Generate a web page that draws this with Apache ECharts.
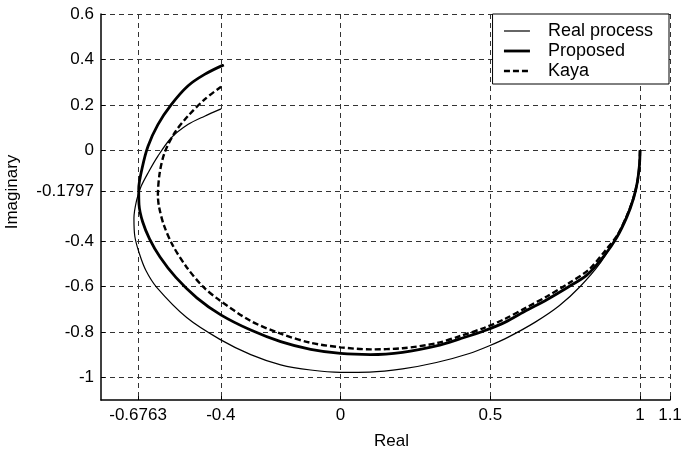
<!DOCTYPE html>
<html>
<head>
<meta charset="utf-8">
<script src="https://cdn.jsdelivr.net/npm/echarts@6/dist/echarts.min.js"></script>
<style>
  html, body { margin: 0; padding: 0; background: #fff; }
  #chart { width: 681px; height: 453px; }
</style>
</head>
<body>
<div id="chart"></div>
<script>
// tick labels
var xTicks = [-0.6763, -0.4, 0, 0.5, 1, 1.1];
var yTicks = [0.6, 0.4, 0.2, 0, -0.1797, -0.4, -0.6, -0.8, -1];

var seriesNames = ["Real process", "Proposed", "Kaya"];

// points [real, imaginary]
var realProcess = [
  [1, 0], [0.998, -0.066], [0.99, -0.14], [0.976, -0.213], [0.953, -0.294],
  [0.917, -0.39], [0.868, -0.495], [0.8, -0.6], [0.73, -0.685],
  [0.65, -0.757], [0.56, -0.823], [0.497, -0.861], [0.43, -0.895],
  [0.32, -0.935], [0.207, -0.963], [0.097, -0.977], [0, -0.978],
  [-0.1, -0.968], [-0.2, -0.945], [-0.3, -0.9], [-0.403, -0.833],
  [-0.514, -0.737], [-0.614, -0.604], [-0.65, -0.53], [-0.672, -0.455],
  [-0.687, -0.38], [-0.69, -0.3], [-0.681, -0.22], [-0.666, -0.159],
  [-0.643, -0.1], [-0.61, -0.026], [-0.566, 0.054], [-0.51, 0.113],
  [-0.454, 0.15], [-0.399, 0.182]
];
var proposed = [
  [1, 0], [0.998, -0.066], [0.991, -0.14], [0.978, -0.213], [0.956, -0.294],
  [0.922, -0.385], [0.88, -0.465], [0.822, -0.55], [0.763, -0.6],
  [0.69, -0.657], [0.62, -0.706], [0.55, -0.757], [0.48, -0.795],
  [0.4, -0.83], [0.32, -0.862], [0.207, -0.89], [0.1, -0.9], [0, -0.895],
  [-0.1, -0.877], [-0.2, -0.843], [-0.3, -0.792], [-0.4, -0.725],
  [-0.48, -0.65], [-0.55, -0.56], [-0.603, -0.47], [-0.638, -0.39],
  [-0.661, -0.315], [-0.673, -0.24], [-0.674, -0.17], [-0.662, -0.075],
  [-0.643, 0.018], [-0.61, 0.113], [-0.566, 0.2], [-0.51, 0.283],
  [-0.454, 0.334], [-0.39, 0.376]
];
var kaya = [
  [1, 0], [0.998, -0.066], [0.991, -0.14], [0.978, -0.21], [0.957, -0.285],
  [0.924, -0.375], [0.885, -0.44], [0.83, -0.525], [0.763, -0.585],
  [0.69, -0.643], [0.62, -0.693], [0.55, -0.742], [0.48, -0.782],
  [0.4, -0.818], [0.32, -0.85], [0.207, -0.872], [0.1, -0.877], [0, -0.868],
  [-0.1, -0.848], [-0.2, -0.808], [-0.3, -0.752], [-0.403, -0.662],
  [-0.46, -0.6], [-0.514, -0.515], [-0.56, -0.42], [-0.59, -0.33],
  [-0.606, -0.25], [-0.61, -0.2], [-0.604, -0.1], [-0.588, -0.012],
  [-0.554, 0.077], [-0.51, 0.15], [-0.454, 0.224], [-0.399, 0.28]
];

var myChart = echarts.init(document.getElementById("chart"));
var font = "Liberation Sans, Arial, sans-serif";
var gridLine = { show: true, lineStyle: { color: "#333", width: 1, type: [5, 4] } };
var lineStyles = [
  { color: "#000", width: 1.2 },
  { color: "#000", width: 2.8 },
  { color: "#000", width: 2.4, type: [6, 3] }
];

var option = {
  backgroundColor: "#fff",
  animation: false,
  color: ["#000", "#000", "#000"],
  grid: { left: 101, right: 11, top: 14, bottom: 53, outerBoundsMode: "none" },
  legend: {
    orient: "vertical",
    right: 12,
    top: 14,
    padding: [8, 16, 4, 10],
    itemWidth: 26,
    itemHeight: 18,
    itemGap: 2,
    backgroundColor: "#fff",
    borderColor: "#000",
    borderWidth: 1,
    borderRadius: 0,
    itemStyle: { opacity: 0 },
    textStyle: { fontFamily: font, fontSize: 18, color: "#000", padding: [0, 0, 0, 13] },
    data: seriesNames.map(function (n, i) {
      return { name: n, lineStyle: lineStyles[i] };
    })
  },
  xAxis: {
    type: "value",
    min: -0.8,
    max: 1.1,
    name: "Real",
    nameLocation: "middle",
    nameGap: 33,
    nameTextStyle: { fontFamily: font, fontSize: 17, color: "#000", padding: [0, 0, 0, 12] },
    axisLine: { onZero: false, lineStyle: { color: "#000", width: 1.5 } },
    axisTick: { inside: true, length: 4, customValues: xTicks, lineStyle: { color: "#000" } },
    axisLabel: {
      customValues: xTicks,
      fontFamily: font, fontSize: 17, color: "#000", margin: 7,
      formatter: function (v) { return String(v); }
    },
    splitLine: gridLine
  },
  yAxis: {
    type: "value",
    min: -1.1,
    max: 0.6,
    name: "Imaginary",
    nameLocation: "middle",
    nameGap: 80,
    nameTextStyle: { fontFamily: font, fontSize: 17, color: "#000", padding: [0, 0, 0, 30] },
    axisLine: { onZero: false, lineStyle: { color: "#000", width: 1.5 } },
    axisTick: { inside: true, length: 4, customValues: yTicks, lineStyle: { color: "#000" } },
    axisLabel: {
      customValues: yTicks,
      fontFamily: font, fontSize: 17, color: "#000", margin: 7,
      formatter: function (v) { return String(v); }
    },
    splitLine: gridLine
  },
  series: [
    {
      name: seriesNames[0],
      type: "line",
      data: realProcess,
      smooth: 0.3,
      symbol: "none",
      itemStyle: { color: "#000" },
      lineStyle: lineStyles[0]
    },
    {
      name: seriesNames[1],
      type: "line",
      data: proposed,
      smooth: 0.3,
      symbol: "none",
      itemStyle: { color: "#000" },
      lineStyle: lineStyles[1]
    },
    {
      name: seriesNames[2],
      type: "line",
      data: kaya,
      smooth: 0.3,
      symbol: "none",
      itemStyle: { color: "#000" },
      lineStyle: lineStyles[2]
    }
  ]
};
myChart.setOption(option);
</script>
</body>
</html>
